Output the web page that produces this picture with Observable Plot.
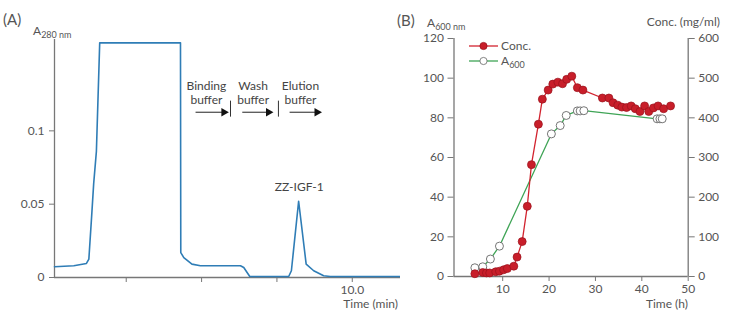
<!DOCTYPE html>
<html><head><meta charset="utf-8">
<script src="https://cdn.jsdelivr.net/npm/d3@7"></script>
<script src="https://cdn.jsdelivr.net/npm/@observablehq/plot@0.6"></script>
<style>
body{margin:0;background:#fff;font-family:Lato,"Open Sans",sans-serif;color:#555}
#wrap{position:relative;width:730px;height:325px;overflow:hidden}
.pl{position:absolute;top:0}
.t{position:absolute;white-space:nowrap;font-size:12px;color:#555;line-height:1}
.t sub{font-size:9px;vertical-align:-3px}
</style></head><body>
<div id="wrap">
  <div id="pa" class="pl" style="left:0"></div>
  <div id="pb" class="pl" style="left:400px"></div>
  <div class="t" style="left:3px;top:12px;font-size:15px">(A)</div>
  <div class="t" style="left:33px;top:25px">A<sub>280 nm</sub></div>
  <div class="t" style="right:332px;top:298px">Time (min)</div>
  <div class="t" style="left:397px;top:13px;font-size:15px">(B)</div>
  <div class="t" style="left:427px;top:17px">A<sub>600 nm</sub></div>
  <div class="t" style="right:10px;top:16px">Conc. (mg/ml)</div>
  <div class="t" style="right:42px;top:298px">Time (h)</div>
  <div id="leg" style="position:absolute;left:469px;top:38px"></div>
</div>
<script>
// ---- Panel A: chromatogram ----
const aTime = [0.12,0.76,1.18,1.26,1.35,1.42,1.51,1.62,4.30,4.31,4.41,4.68,4.96,6.29,6.40,6.51,6.60,7.89,7.98,8.22,8.47,8.72,9.05,9.27,11.59];
const aAbs  = [0.0073,0.008,0.0096,0.0125,0.041,0.064,0.086,0.16,0.16,0.017,0.0136,0.0091,0.008,0.008,0.0068,0.0034,0.0007,0.0007,0.0046,0.052,0.0091,0.0046,0.0012,0.0007,0.0007];
const bufNames = ["Binding\nbuffer","Wash\nbuffer","Elution\nbuffer"];
const bufCenter = [5.16,6.71,8.28];
const bufArrowFrom = [4.80,6.35,7.92];
const bufArrowTo = [5.86,7.34,8.95];
const bufSwitch = [5.96,7.55];
const peakLabel = "ZZ-IGF-1";
const peakTime = 8.24;
const aTicks = [0,0.05,0.1];
const aXTicks = [2.5,5,7.5,10];

// ---- Panel B: culture ----
const concTime = [4.0,5.7,6.5,7.2,8.5,9.3,10.2,11.0,12.4,13.1,14.2,15.3,16.2,17.7,18.55,19.8,20.8,21.9,22.9,23.8,24.9,26.1,27.3,31.5,32.9,33.8,34.8,35.7,36.7,37.7,38.6,39.6,40.6,41.5,42.5,43.5,44.7,46.2];
const concVal  = [7,10,9,9,12,13.5,17,20,26,49,88,177,282,384,447,470,485,490,486,497,505,476,470,450,450,438,432,427,426,430,423,416,430,416,425,430,423,430];
const a600Time = [4.0,5.7,7.35,9.3,20.5,22.4,23.7,26.1,26.7,27.5,43.3,43.9,44.4];
const a600Val  = [4.4,4.9,8.8,15.3,71.9,76.1,81.2,83.5,83.5,83.6,79.5,79.5,79.5];
const bYTicks = [0,20,40,60,80,100,120];
const bXTicks = [10,20,30,40,50];
const concPerA = 5; // right axis 0-600 aligned with left 0-120

const blue = "#2f7db6", red = "#d2232f", redDot = "#c81e2a", green = "#3fa456", axc = "#777";

const A = aTime.map((t,i)=>({t, v:aAbs[i]}));
const bufs = bufNames.map((n,i)=>({n, c:bufCenter[i], f:bufArrowFrom[i], to:bufArrowTo[i]}));

const pa = Plot.plot({
  width:400, height:325, marginLeft:54, marginRight:0, marginTop:39, marginBottom:48,
  style:{fontFamily:"Lato, 'Open Sans', sans-serif", fontSize:"12px", color:"#555", background:"transparent"},
  x:{domain:[0.12,11.6]}, y:{domain:[0,0.1623]},
  marks:[
    Plot.axisX({ticks:aXTicks, tickFormat:d=>d===10?"10.0":"", tickSize:5, tickPadding:3, label:null, stroke:axc, color:"#555"}),
    Plot.axisY({ticks:aTicks, tickFormat:d=>d===0?"0":String(d), tickSize:5, tickPadding:5, label:null, stroke:axc, color:"#555"}),
    Plot.ruleX([0.12],{stroke:axc, strokeWidth:1.3}),
    Plot.ruleY([0],{stroke:axc, strokeWidth:1.3}),
    Plot.line(A,{x:"t", y:"v", stroke:blue, strokeWidth:1.6}),
    Plot.text(bufs,{x:"c", y:0.1261, text:"n", lineHeight:1.17, fontSize:12, fill:"#444"}),
    Plot.link(bufs,{x1:"f", x2:d=>d.to-0.18, y1:0.1127, y2:0.1127, stroke:"#222", strokeWidth:1}),
    Plot.dot(bufs,{x:d=>d.to-0.12, y:0.1127, symbol:"triangle", r:3.2, rotate:90, fill:"#111", stroke:"none"}),
    Plot.link(bufSwitch,{x1:d=>d, x2:d=>d, y1:0.1206, y2:0.1097, stroke:"#333", strokeWidth:1}),
    Plot.text([peakLabel],{x:peakTime, y:0.0615, text:d=>d, fontSize:12, fill:"#444"})
  ]
});
document.getElementById("pa").appendChild(pa);

const C = concTime.map((t,i)=>({t, c:concVal[i]}));
const G = a600Time.map((t,i)=>({t, a:a600Val[i]}));

const pb = Plot.plot({
  width:330, height:325, marginLeft:53.5, marginRight:42.3, marginTop:38, marginBottom:49,
  style:{fontFamily:"Lato, 'Open Sans', sans-serif", fontSize:"12px", color:"#555", background:"transparent"},
  x:{domain:[-0.5,50]}, y:{domain:[0,120]},
  marks:[
    Plot.axisX({ticks:bXTicks, tickSize:5, tickPadding:3, label:null, stroke:axc, color:"#555"}),
    Plot.axisY({ticks:bYTicks, tickSize:6, tickPadding:4, label:null, stroke:axc, color:"#555"}),
    Plot.axisY({anchor:"right", ticks:bYTicks, tickFormat:d=>String(d*concPerA), tickSize:6, tickPadding:4, label:null, stroke:axc, color:"#555"}),
    Plot.ruleX([-0.5],{stroke:axc, strokeWidth:1.3}),
    Plot.ruleX([50],{stroke:axc, strokeWidth:1.3}),
    Plot.ruleY([0],{stroke:axc, strokeWidth:1.3}),
    Plot.line(G,{x:"t", y:"a", stroke:green, strokeWidth:1.3}),
    Plot.line(C,{x:"t", y:d=>d.c/concPerA, stroke:red, strokeWidth:1.3}),
    Plot.dot(G,{x:"t", y:"a", r:4, fill:"white", stroke:"#666", strokeWidth:0.9}),
    Plot.dot(C,{x:"t", y:d=>d.c/concPerA, r:4, fill:redDot, stroke:"#9a121c", strokeWidth:0.7})
  ]
});
document.getElementById("pb").appendChild(pb);

// legend
const leg = d3.select("#leg").append("svg").attr("width",120).attr("height",34).style("overflow","visible");
const items = [{lab:"Conc.", c:red, fill:redDot, st:"#9a121c", sub:null},{lab:"A", c:green, fill:"white", st:"#666", sub:"600"}];
items.forEach((it,i)=>{
  const y = 8 + i*15;
  leg.append("line").attr("x1",0).attr("x2",29).attr("y1",y).attr("y2",y).attr("stroke",it.c).attr("stroke-width",1.3);
  leg.append("circle").attr("cx",14.5).attr("cy",y).attr("r",3.6).attr("fill",it.fill).attr("stroke",it.st).attr("stroke-width",0.8);
  const tx = leg.append("text").attr("x",32).attr("y",y+4.3).attr("font-size",12).attr("fill","#555").attr("font-family","Lato, 'Open Sans', sans-serif").text(it.lab);
  if(it.sub) tx.append("tspan").attr("font-size",9).attr("dy",3).text(it.sub);
});
</script>
</body></html>
